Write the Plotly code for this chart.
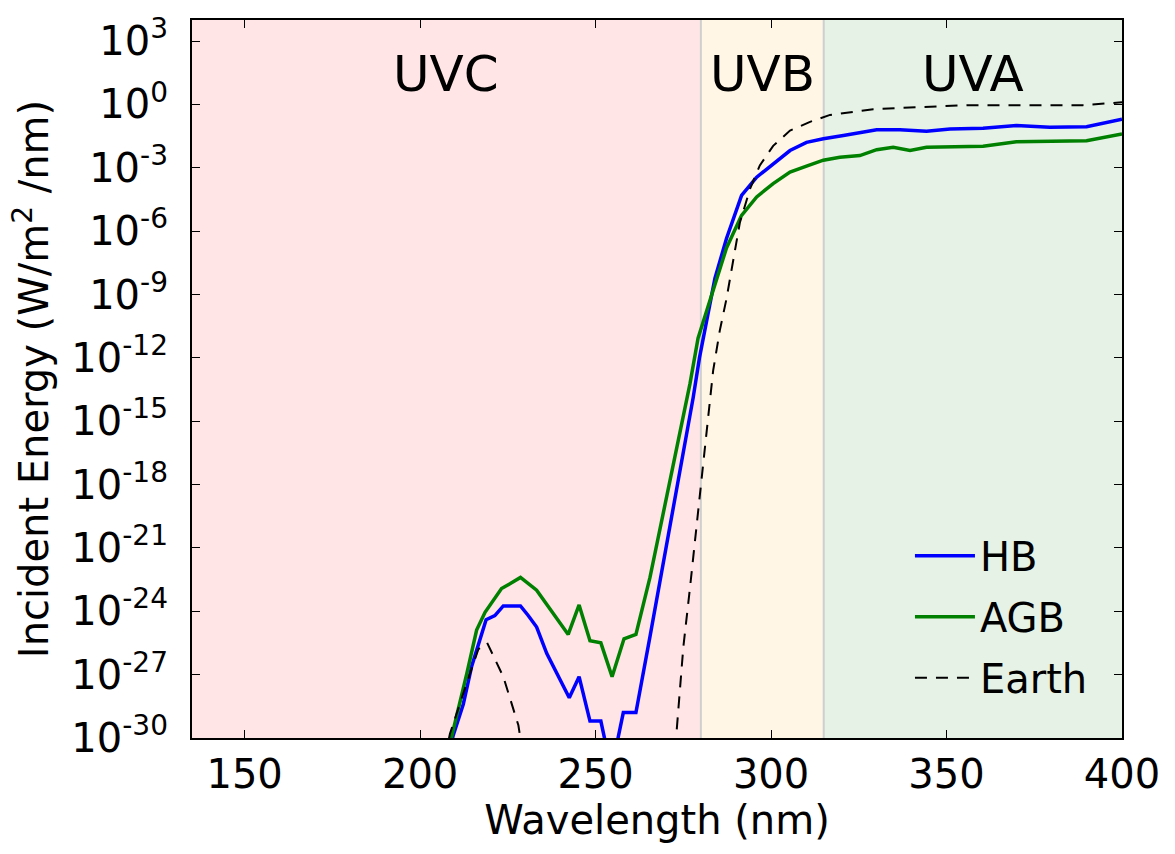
import plotly.graph_objects as go

# ---------------- data ----------------
hb_wl = [208.0, 209.4, 212.3, 214.7, 218.8, 221.3, 223.7, 228.6, 230.8, 233.2, 236.1,
         242.5, 245.3, 248.4, 251.5, 254.5, 257.9, 261.5, 265.5, 272.6, 277.8, 279.6,
         284.0, 287.3, 291.6, 295.9, 300.6, 305.4, 310.1, 314.9, 320.6, 330.1, 336.7,
         344.3, 351.0, 360.4, 369.9, 379.4, 389.9, 400.0]
hb_val = [1e-31, 1.3e-30, 4e-29, 2.5e-27, 4e-25, 6.3e-25, 1.8e-24, 1.8e-24, 6.3e-25, 1.8e-25, 1e-26,
          8e-29, 8e-28, 6.3e-30, 6.3e-30, 3e-32, 1.6e-29, 1.6e-29, 6.3e-26, 1.6e-19, 1.3e-14, 1e-12,
          5.8e-9, 4.5e-7, 5e-5, 3.6e-4, 1.5e-3, 6.6e-3, 1.6e-2, 2.4e-2, 3.4e-2, 6.3e-2, 6.3e-2,
          5.4e-2, 6.9e-2, 7.4e-2, 1.0e-1, 8.3e-2, 8.9e-2, 2.0e-1]

agb_wl = [208.0, 209.0, 213.3, 216.1, 218.5, 223.2, 225.6, 228.6, 233.2, 242.2, 245.3,
          248.4, 251.5, 254.7, 258.1, 261.5, 265.5, 272.1, 276.9, 279.2, 283.0, 287.3,
          291.6, 295.9, 300.6, 305.4, 310.1, 314.9, 319.6, 325.3, 330.1, 334.8, 339.6,
          344.3, 360.4, 369.9, 389.9, 400.0]
agb_val = [1e-31, 1.2e-30, 1.1e-27, 1.3e-25, 9e-25, 1.2e-23, 2e-23, 4e-23, 1e-23, 8e-26, 2e-24,
           4e-26, 3.2e-26, 8e-28, 5e-26, 8e-26, 4e-23, 1e-17, 6e-14, 8.5e-12, 8e-10, 1.6e-7,
           5.6e-6, 4.2e-5, 1.8e-4, 6.3e-4, 1.2e-3, 2.3e-3, 3.2e-3, 3.8e-3, 7.2e-3, 9.3e-3, 6.6e-3,
           9.3e-3, 1.05e-2, 1.7e-2, 1.9e-2, 4e-2]

earth_wl = [207.0, 208.5, 213.3, 216.6, 219.1, 223.7, 228.0, 229.5, 250.0, 272.0, 273.1,
            275.0, 276.9, 278.8, 280.2, 281.6, 283.5, 285.4, 287.3, 291.1, 294.0, 296.8,
            300.6, 305.4, 311.1, 316.8, 329.1, 355.7, 374.6, 388.9, 400.0]
earth_val = [1e-31, 1.6e-30, 4e-28, 1.6e-26, 3.2e-26, 8e-28, 4e-30, 1e-31, 1e-35, 1e-31, 2.2e-30,
             2e-26, 1.3e-23, 1e-20, 2e-18, 3.2e-16, 2.5e-13, 2e-11, 6.3e-10, 2.5e-6, 1e-4, 1.3e-3,
             1.1e-2, 5.8e-2, 0.15, 0.32, 0.6, 0.93, 0.93, 0.93, 1.26]

bands = ["UVC", "UVB", "UVA"]
band_edges = [135, 280, 315, 400]
band_colors = ["rgba(255,0,0,0.1)", "rgba(255,165,0,0.1)", "rgba(0,128,0,0.1)"]

x_ticks = [150, 200, 250, 300, 350, 400]
y_exps = [3, 0, -3, -6, -9, -12, -15, -18, -21, -24, -27, -30]

FONT = "DejaVu Sans"

fig = go.Figure()
fig.add_trace(go.Scatter(x=hb_wl, y=hb_val, mode="lines", name="HB", legendgroup="hb",
                         line=dict(color="#0000ff", width=3.5)))
fig.add_trace(go.Scatter(x=agb_wl, y=agb_val, mode="lines", name="AGB", legendgroup="agb",
                         line=dict(color="#008000", width=3.5)))
fig.add_trace(go.Scatter(x=earth_wl, y=earth_val, mode="lines", name="Earth", legendgroup="earth",
                         line=dict(color="black", width=2, dash="12px,9px")))

shapes = []
annotations = []
for i, b in enumerate(bands):
    x0, x1 = band_edges[i], band_edges[i + 1]
    shapes.append(dict(type="rect", xref="x", yref="paper", x0=x0, x1=x1, y0=0, y1=1,
                       fillcolor=band_colors[i], line=dict(width=0), layer="below"))
    annotations.append(dict(x=(x0 + x1) / 2, y=0.925, xref="x", yref="paper", text=b,
                            showarrow=False, font=dict(family=FONT, size=50, color="black"),
                            xanchor="center", yanchor="middle"))
for xb in band_edges[1:3]:
    shapes.append(dict(type="line", xref="x", yref="paper", x0=xb, x1=xb, y0=0, y1=1,
                       line=dict(color="#cfcfcf", width=2), layer="below"))

fig.update_layout(
    width=1175, height=854,
    margin=dict(l=192, r=53, t=17, b=116),
    paper_bgcolor="white", plot_bgcolor="white",
    font=dict(family=FONT, size=40, color="black"),
    shapes=shapes, annotations=annotations,
    showlegend=True,
    legend=dict(x=0.772, y=0.299, xanchor="left", yanchor="top",
                bgcolor="rgba(0,0,0,0)", borderwidth=0, itemwidth=60,
                font=dict(family=FONT, size=40), tracegroupgap=6),
    xaxis=dict(range=[135, 400], tickvals=x_ticks, ticktext=[str(v) for v in x_ticks],
               ticks="inside", ticklen=8, tickwidth=1, tickcolor="black",
               showline=True, linecolor="black", linewidth=2, mirror="ticks",
               showgrid=False, zeroline=False, ticklabelstandoff=0,
               title=dict(text="Wavelength (nm)", font=dict(size=40), standoff=8)),
    yaxis=dict(type="log", range=[-30, 4], tickvals=[10.0 ** e for e in y_exps],
               ticktext=["10<sup>%d</sup>" % e for e in y_exps],
               ticks="inside", ticklen=8, tickwidth=1, tickcolor="black",
               showline=True, linecolor="black", linewidth=2, mirror="ticks",
               showgrid=False, zeroline=False, ticklabelstandoff=14,
               title=dict(text="Incident Energy (W/m<sup>2</sup> /nm)", font=dict(size=40), standoff=10)),
)

fig.write_html("out.html")
